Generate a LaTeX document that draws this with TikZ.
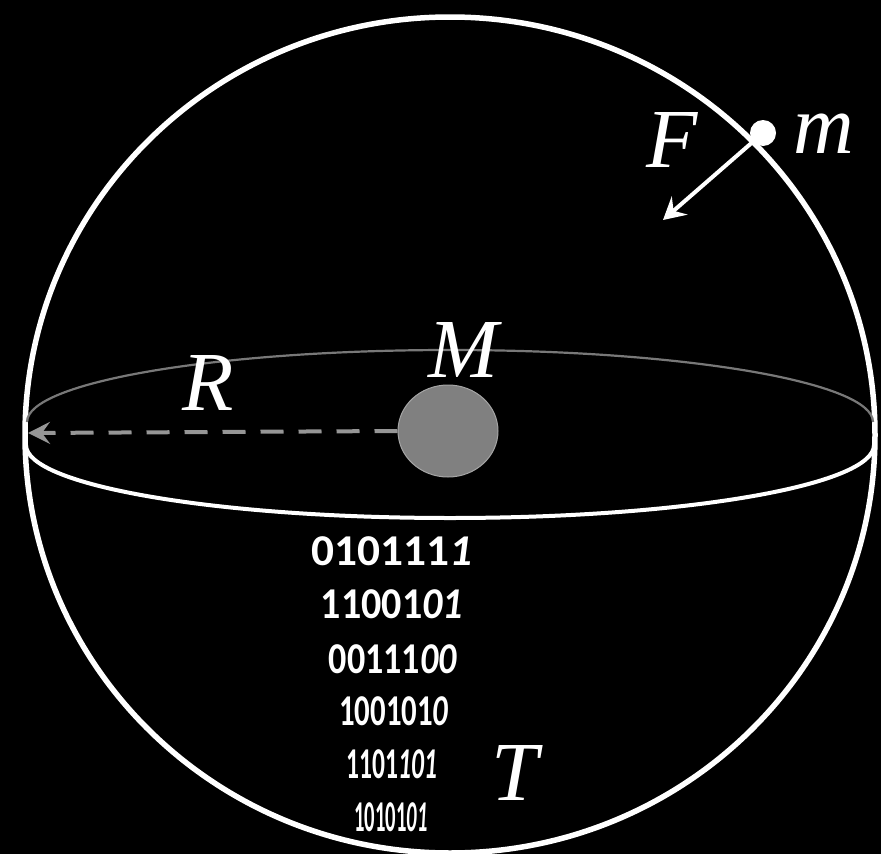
\documentclass[tikz,border=0pt]{standalone}
\usepackage{fontspec}
\setmainfont{Liberation Serif}
\newfontfamily\binfont{Carlito}
\usetikzlibrary{arrows.meta,shapes.geometric}
\definecolor{ballgray}{RGB}{128,128,128}
\definecolor{ballrim}{RGB}{165,165,165}
\definecolor{dashgray}{RGB}{150,150,150}
\definecolor{backgray}{RGB}{120,120,120}
\begin{document}
\begin{tikzpicture}[x=1pt,y=-1pt,
  letter/.style={text=white,font=\fontsize{84}{84}\selectfont\itshape,inner sep=0pt,anchor=base},
  bits/.style={text=white,font=\binfont\bfseries\fontsize{44}{44}\selectfont,inner sep=0pt},
  sphere/.style={draw=white,line width=5.5pt},
  frontline/.style={draw=white,line width=4pt},
  backline/.style={draw=backgray,line width=2.2pt},
  radiusline/.style={draw=dashgray,line width=4pt,dash pattern=on 23pt off 15pt,
    -{Stealth[length=22pt,width=22pt,inset=8pt,fill=dashgray]}},
  forceline/.style={draw=white,line width=4pt,-{Stealth[length=22pt,width=24pt,inset=8pt]}}]
\fill[black] (0,0) rectangle (881,854);
\useasboundingbox (0,0) rectangle (881,854);
% sphere outline
\draw[sphere] (450,435) ellipse [x radius=425, y radius=418];
% equator: back half and front half
\draw[backline] (27,422) arc[start angle=180, end angle=360, x radius=423, y radius=72];
\draw[frontline] (26,445) arc[start angle=180, end angle=0, x radius=424, y radius=73];
% central mass
\node[ellipse,minimum width=100pt,minimum height=92pt,inner sep=0pt,fill=ballgray,draw=ballrim,line width=1pt] (ball) at (448,431) {};
\coordinate (rim) at (28,433);
\draw[radiusline] (ball.west) -- (rim);
% test mass and force
\node[circle,fill=white,minimum size=26pt,inner sep=0pt] (dot) at (763,133) {};
\coordinate (ftip) at (663,220);
\draw[forceline] (dot.center) -- (ftip);
% labels
\node[letter] (Mlab) at (463,377) {M};
\node[letter] (Rlab) at (208,410) {R};
\node[letter] (Flab) at (672,167) {F};
\node[letter] (mlab) at (824,153) {m};
\node[letter] (Tlab) at (515,800) {T};
% bit strings
\node[bits] (b1) at (392,551) {\scalebox{1.03}[1]{010111\textit{1}}};
\node[bits] (b2) at (392,604) {\scalebox{0.91}[1]{11001\textit{01}}};
\node[bits] (b3) at (393,659) {\scalebox{0.82}[1]{00111\textit{00}}};
\node[bits] (b4) at (394,711) {\scalebox{0.70}[1]{100101\textit{0}}};
\node[bits] (b5) at (392,764) {\scalebox{0.58}[1]{1101\textit{101}}};
\node[bits] (b6) at (391,817) {\scalebox{0.47}[1]{10101\textit{01}}};
\end{tikzpicture}
\end{document}
